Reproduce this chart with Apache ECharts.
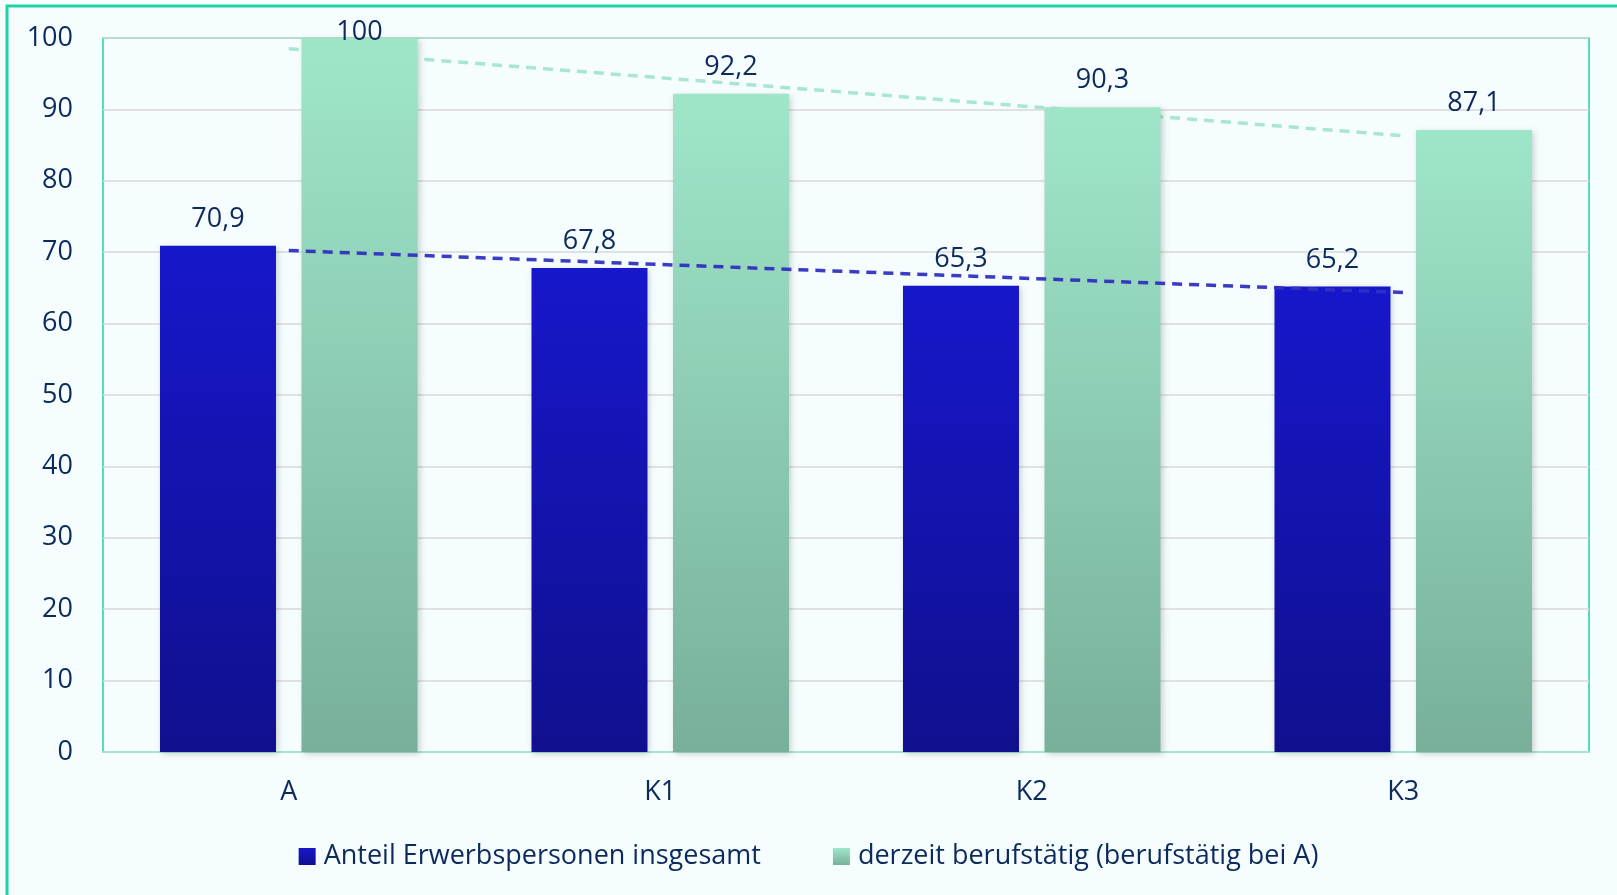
<!DOCTYPE html>
<html>
<head>
<meta charset="utf-8">
<script src="https://cdn.jsdelivr.net/npm/echarts@6/dist/echarts.min.js"></script>
<style>
  html, body { margin: 0; padding: 0; background: #f5fdff; }
  #chart { width: 1617px; height: 895px; }
</style>
</head>
<body>
<div id="chart"></div>
<script>
  // Kategorien und Werte
  var categories = ['A', 'K1', 'K2', 'K3'];
  var anteilErwerbspersonen = [70.9, 67.8, 65.3, 65.2];
  var derzeitBerufstaetig = [100, 92.2, 90.3, 87.1];
  var yTicks = [0, 10, 20, 30, 40, 50, 60, 70, 80, 90, 100];
  var seriesNames = ['Anteil Erwerbspersonen insgesamt', 'derzeit berufstätig (berufstätig bei A)'];

  // lineare Trendlinie (wie in Excel) aus den Werten
  function trend(vals) {
    var n = vals.length, mx = (n - 1) / 2, my = 0;
    vals.forEach(function (v) { my += v / n; });
    var sxy = 0, sxx = 0;
    vals.forEach(function (v, i) { sxy += (i - mx) * (v - my); sxx += (i - mx) * (i - mx); });
    var b = sxy / sxx;
    return vals.map(function (v, i) { return my + b * (i - mx); });
  }

  var textColor = '#0c2a5c';
  var font = '"Open Sans", "Noto Sans", sans-serif';
  var fs = 27;
  function fmt(p) { return String(p.value).replace('.', ','); }

  var myChart = echarts.init(document.getElementById('chart'));
  myChart.setOption({
    backgroundColor: '#f5fdff',
    animation: false,
    textStyle: { fontFamily: font },
    graphic: [{
      type: 'rect',
      shape: { x: 7, y: 6, width: 1680, height: 960 },
      style: { fill: null, stroke: '#1fd3a4', lineWidth: 3 },
      silent: true
    }],
    grid: {
      left: 103, top: 38, right: 28, bottom: 143,
      show: true, borderColor: '#1fd3a4', borderWidth: 1.5, backgroundColor: 'transparent'
    },
    legend: {
      bottom: 20,
      left: 'center',
      itemWidth: 17, itemHeight: 17,
      itemGap: 72,
      icon: 'rect',
      textStyle: { color: textColor, fontSize: fs, fontFamily: font, padding: [0, 0, 0, 3] },
      data: seriesNames
    },
    xAxis: {
      type: 'category',
      data: categories,
      axisLine: { lineStyle: { color: '#a8e4d2', width: 2 } },
      axisTick: { show: false },
      axisLabel: { color: textColor, fontSize: fs, margin: 27 }
    },
    yAxis: {
      type: 'value',
      min: yTicks[0], max: yTicks[yTicks.length - 1], interval: 10,
      axisLine: { show: false },
      axisTick: { show: false },
      splitLine: { lineStyle: { color: '#d9d9d9', width: 1.5 } },
      axisLabel: { color: textColor, fontSize: fs, margin: 30 }
    },
    series: [
      {
        name: seriesNames[0],
        type: 'bar',
        barWidth: 116,
        barGap: '22%',
        data: anteilErwerbspersonen,
        itemStyle: {
          color: new echarts.graphic.LinearGradient(0, 0, 0, 1, [
            { offset: 0, color: '#1717cb' },
            { offset: 1, color: '#10108e' }
          ]),
          shadowBlur: 6, shadowColor: 'rgba(0,0,0,0.18)', shadowOffsetX: 2, shadowOffsetY: 2
        },
        label: { show: true, position: 'top', distance: 13, color: textColor, fontSize: fs, formatter: fmt }
      },
      {
        name: seriesNames[1],
        type: 'bar',
        barWidth: 116,
        data: derzeitBerufstaetig.map(function (v, i) {
          return i === 0 ? { value: v, label: { distance: -8 } } : v;
        }),
        itemStyle: {
          color: new echarts.graphic.LinearGradient(0, 0, 0, 1, [
            { offset: 0, color: '#9fe6c9' },
            { offset: 1, color: '#78b09a' }
          ]),
          shadowBlur: 6, shadowColor: 'rgba(0,0,0,0.18)', shadowOffsetX: 2, shadowOffsetY: 2
        },
        label: { show: true, position: 'top', distance: 13, color: textColor, fontSize: fs, formatter: fmt }
      },
      {
        type: 'line',
        data: trend(anteilErwerbspersonen),
        symbol: 'none',
        silent: true,
        z: 5,
        lineStyle: { color: '#3030c0', width: 3.5, type: [10, 7], opacity: 0.95 }
      },
      {
        type: 'line',
        data: trend(derzeitBerufstaetig),
        symbol: 'none',
        silent: true,
        z: 1,
        lineStyle: { color: '#a9e6cf', width: 3.5, type: [10, 7] }
      }
    ]
  });
</script>
</body>
</html>
